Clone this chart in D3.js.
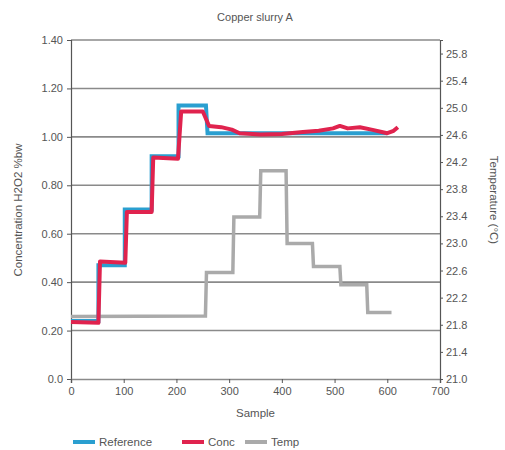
<!DOCTYPE html>
<html>
<head>
<meta charset="utf-8">
<script src="https://cdn.jsdelivr.net/npm/d3@7"></script>
<style>
  html, body { margin: 0; padding: 0; background: #fff; }
  svg text { font-family: "Liberation Sans", Arial, sans-serif; fill: #555; }
</style>
</head>
<body>
<svg id="chart" width="505" height="450"></svg>
<script>
// ---- Data ----
const title = "Copper slurry A";
const xLabel = "Sample";
const yLabelLeft = "Concentration H2O2 %bw";
const yLabelRight = "Temperature (°C)";

const xTicks = [0, 100, 200, 300, 400, 500, 600, 700];
const yTicksLeft = [0, 0.2, 0.4, 0.6, 0.8, 1.0, 1.2, 1.4];
const yTickLabelsLeft = ["0.0", "0.20", "0.40", "0.60", "0.80", "1.00", "1.20", "1.40"];
const yTicksRight = [21.0, 21.4, 21.8, 22.2, 22.6, 23.0, 23.4, 23.8, 24.2, 24.6, 25.0, 25.4, 25.8];

// Reference series (sample, %bw)
const refSamples = [0, 52, 52, 102, 102, 153, 153, 204, 204, 256, 259, 600];
const refValues  = [0.24, 0.24, 0.47, 0.47, 0.70, 0.70, 0.92, 0.92, 1.13, 1.13, 1.015, 1.015];

// Conc series (sample, %bw)
const concSamples = [0, 52, 55, 103, 106, 153, 156, 203, 209, 250, 262, 285, 305, 320, 360, 400, 440, 470, 497, 510, 525, 548, 570, 600, 612, 620];
const concValues  = [0.235, 0.232, 0.485, 0.48, 0.69, 0.69, 0.915, 0.91, 1.105, 1.105, 1.045, 1.04, 1.03, 1.015, 1.01, 1.012, 1.02, 1.025, 1.035, 1.045, 1.035, 1.04, 1.03, 1.015, 1.025, 1.04];

// Temp series (sample, °C)
const tempSamples = [0, 255, 257, 307, 309, 358, 360, 408, 410, 458, 460, 510, 512, 561, 563, 608];
const tempValues  = [21.92, 21.93, 22.57, 22.57, 23.39, 23.39, 24.07, 24.07, 23.0, 23.0, 22.66, 22.66, 22.39, 22.39, 21.98, 21.98];

const legendNames = ["Reference", "Conc", "Temp"];
const legendColors = ["#2a9fd0", "#e0234e", "#aaaaaa"];

// ---- Layout ----
const svg = d3.select("#chart");
const mLeft = 71, mRight = 440, mTop = 40, mBottom = 379;

const x = d3.scaleLinear().domain([0, 700]).range([mLeft, mRight]);
const yL = d3.scaleLinear().domain([0, 1.4]).range([mBottom, mTop]);
const yR = d3.scaleLinear().domain([21, 26]).range([mBottom, mTop]);

const gridColor = "#8a8a8a";

// gridlines
svg.append("g").selectAll("line")
  .data(yTicksLeft.filter(d => d > 0))
  .join("line")
  .attr("x1", mLeft).attr("x2", mRight)
  .attr("y1", d => yL(d)).attr("y2", d => yL(d))
  .attr("stroke", gridColor).attr("stroke-width", 1.6);

// left axis
const axL = svg.append("g").attr("transform", `translate(${mLeft},0)`)
  .call(d3.axisLeft(yL).tickValues(yTicksLeft)
    .tickFormat((d, i) => yTickLabelsLeft[i]).tickSize(4).tickPadding(4));
// bottom axis
const axB = svg.append("g").attr("transform", `translate(0,${mBottom})`)
  .call(d3.axisBottom(x).tickValues(xTicks).tickFormat(d3.format("d")).tickSize(4).tickPadding(4));
// right axis
const axR = svg.append("g").attr("transform", `translate(${mRight},0)`)
  .call(d3.axisRight(yR).tickValues(yTicksRight).tickFormat(d3.format(".1f")).tickSize(3).tickPadding(3));

[axL, axB, axR].forEach(g => {
  g.selectAll(".domain").attr("stroke", "#555").attr("stroke-width", 1.2);
  g.selectAll(".tick line").attr("stroke", "#555");
  g.selectAll("text").attr("font-size", 11).attr("fill", "#666")
    .style("font-family", '"Liberation Sans", Arial, sans-serif');
});
axB.select(".domain").attr("stroke", gridColor).attr("stroke-width", 1.6);

// series
const lineL = d3.line().x(d => x(d[0])).y(d => yL(d[1]));
const lineR = d3.line().x(d => x(d[0])).y(d => yR(d[1]));

svg.append("path")
  .datum(tempSamples.map((s, i) => [s, tempValues[i]]))
  .attr("d", lineR).attr("fill", "none")
  .attr("stroke", legendColors[2]).attr("stroke-width", 3.5)
  .attr("stroke-linejoin", "miter");

svg.append("path")
  .datum(refSamples.map((s, i) => [s, refValues[i]]))
  .attr("d", lineL).attr("fill", "none")
  .attr("stroke", legendColors[0]).attr("stroke-width", 4);

svg.append("path")
  .datum(concSamples.map((s, i) => [s, concValues[i]]))
  .attr("d", lineL).attr("fill", "none")
  .attr("stroke", legendColors[1]).attr("stroke-width", 4)
  .attr("stroke-linejoin", "round");

// titles
svg.append("text").attr("x", 255).attr("y", 21).attr("text-anchor", "middle")
  .attr("font-size", 11).text(title);
svg.append("text").attr("x", (mLeft + mRight) / 2).attr("y", 417).attr("text-anchor", "middle")
  .attr("font-size", 11.5).text(xLabel);
svg.append("text").attr("transform", "translate(22,210) rotate(-90)")
  .attr("text-anchor", "middle").attr("font-size", 11.5).text(yLabelLeft);
svg.append("text").attr("transform", "translate(490,200) rotate(90)")
  .attr("text-anchor", "middle").attr("font-size", 11.5).text(yLabelRight);

// legend
const legendX = [73, 182, 245];
const lg = svg.append("g");
legendNames.forEach((n, i) => {
  lg.append("line").attr("x1", legendX[i]).attr("x2", legendX[i] + 22)
    .attr("y1", 442).attr("y2", 442)
    .attr("stroke", legendColors[i]).attr("stroke-width", 4);
  lg.append("text").attr("x", legendX[i] + 26).attr("y", 446)
    .attr("font-size", 11.5).text(n);
});
</script>
</body>
</html>
